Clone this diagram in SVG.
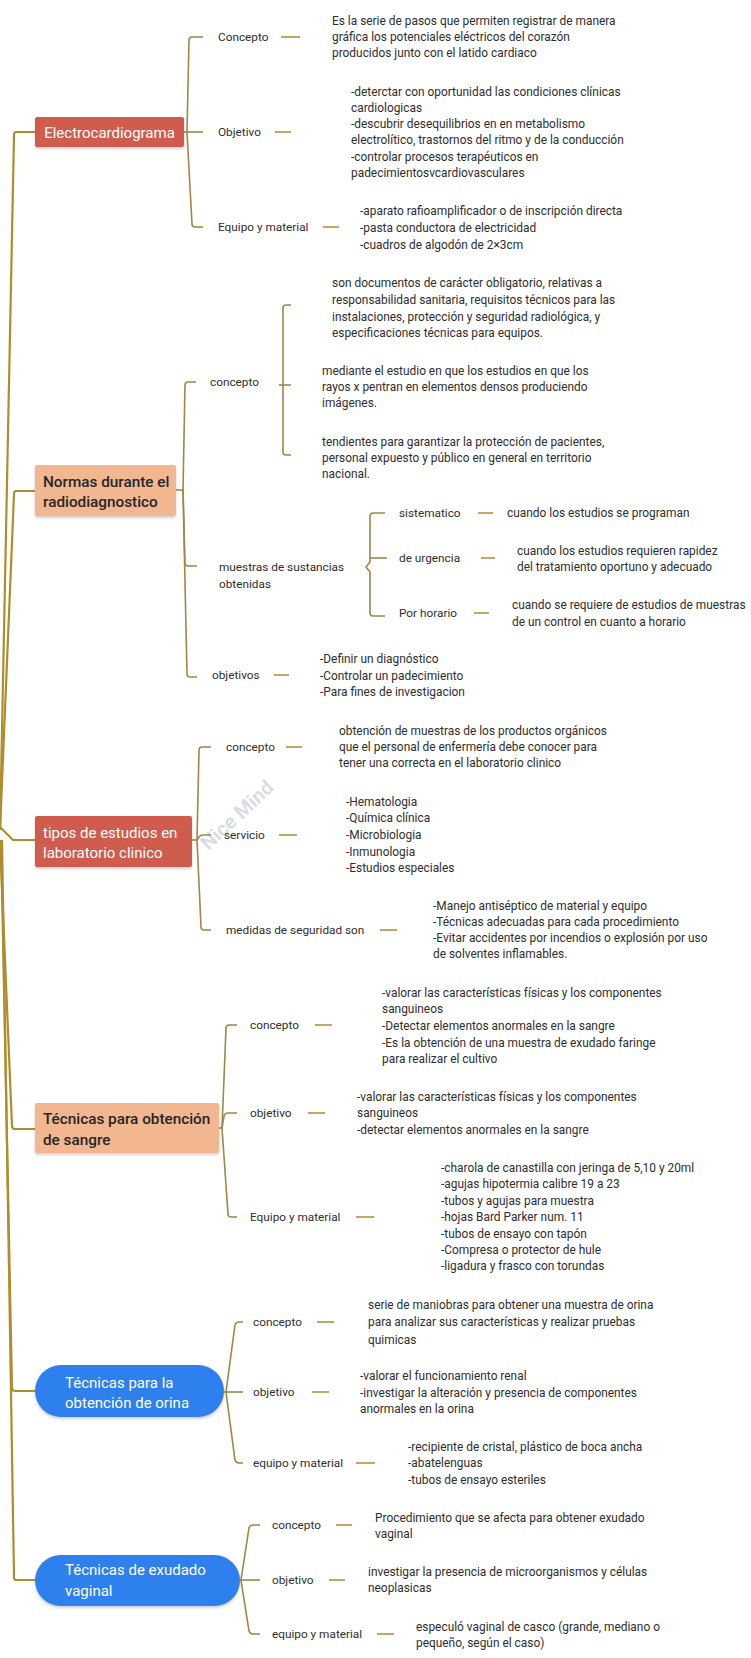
<svg xmlns="http://www.w3.org/2000/svg" width="751" height="1658" viewBox="0 0 751 1658">
<style>
.bg{fill:#ffffff}
.lbl{font-family:Roboto,"Liberation Sans",sans-serif;font-size:11.8px;fill:#2e2e2e}
.txt{font-family:Roboto,"Liberation Sans",sans-serif;font-size:11.9px;fill:#2e2e2e}
.red{fill:#cf5b4d}
.peach{fill:#f2b690}
.blue{fill:#2f80ee}
.tw{font-family:Roboto,"Liberation Sans",sans-serif;font-size:15px;fill:#ffffff}
.td{font-family:Roboto,"Liberation Sans",sans-serif;font-size:15.3px;font-weight:500;fill:#262626}
.root{stroke:#b08d2c;stroke-width:2.2;fill:none}
.br{stroke:#a08745;stroke-width:1.6;fill:none}
.dash{stroke:#c2a860;stroke-width:2}
.wm{font-family:Roboto,"Liberation Sans",sans-serif;font-size:20px;font-weight:bold;fill:#c9d1dc;opacity:0.7}
</style>
<defs>
  <filter id="sh" x="-10%" y="-20%" width="120%" height="150%">
    <feDropShadow dx="0" dy="2" stdDeviation="1.5" flood-color="#000000" flood-opacity="0.18"/>
  </filter>
</defs>
<rect class="bg" x="0" y="0" width="751" height="1658"/>

<text class="wm" x="237" y="822" text-anchor="middle" transform="rotate(-43 237 815)">Nice Mind</text>

<g id="connectors">
  <!-- root lines -->
  <path class="root" d="M35,132 H16 Q14,132 14,135 L0,830"/>
  <path class="root" d="M35,491 H16 Q14,491 14,494 L0,830"/>
  <path class="root" d="M0,827 L13,840 H35"/>
  <path class="root" d="M35,1129 H15 Q12,1129 12,1126 L0,840"/>
  <path class="root" d="M35,1391 H15 Q12,1391 12,1388 L1,840"/>
  <path class="root" d="M35,1580 H16 Q14,1580 14,1577 L2,840"/>

  <!-- Electrocardiograma branches -->
  <path class="br" d="M184,132 H203"/>
  <path class="br" d="M187,132 L189,40 Q189,37 192,37 H203"/>
  <path class="br" d="M187,132 L192,224 Q192,227 195,227 H203"/>
  <line class="dash" x1="281" y1="37" x2="300" y2="37"/>
  <line class="dash" x1="275" y1="132" x2="291" y2="132"/>
  <line class="dash" x1="323" y1="227" x2="339" y2="227"/>

  <!-- Normas branches -->
  <path class="br" d="M176,490 H184"/>
  <path class="br" d="M183,490 L185,385 Q185,382 188,382 H196"/>
  <path class="br" d="M183,490 L185,563 Q185,566 188,566 H197"/>
  <path class="br" d="M183,490 L187,674 Q187,677 190,677 H197"/>
  <path class="br" d="M291,305 H286 Q283,305 283,308 V452 Q283,455 286,455 H291"/>
  <path class="br" d="M279,385 H291"/>
  <path class="br" d="M385,513 H373 Q370,513 370,516 V562 L366,567 L370,572 V613 Q370,616 373,616 H385"/>
  <path class="br" d="M370,558 H387"/>
  <line class="dash" x1="478" y1="513" x2="493" y2="513"/>
  <line class="dash" x1="481" y1="558" x2="495" y2="558"/>
  <line class="dash" x1="474" y1="613" x2="489" y2="613"/>
  <line class="dash" x1="274" y1="675" x2="289" y2="675"/>

  <!-- tipos branches -->
  <path class="br" d="M192,840 H197 L199,837 Q200,835 203,835 H211"/>
  <path class="br" d="M197,840 L199,750 Q199,747 202,747 H211"/>
  <path class="br" d="M197,840 L201,927 Q201,930 204,930 H211"/>
  <line class="dash" x1="286" y1="747" x2="302" y2="747"/>
  <line class="dash" x1="279" y1="835" x2="297" y2="835"/>
  <line class="dash" x1="380" y1="930" x2="397" y2="930"/>

  <!-- sangre branches -->
  <path class="br" d="M219,1128 H223"/>
  <path class="br" d="M222,1128 L226,1028 Q226,1025 229,1025 H237"/>
  <path class="br" d="M222,1128 L224,1116 Q225,1113 228,1113 H237"/>
  <path class="br" d="M222,1128 L228,1214 Q228,1217 231,1217 H237"/>
  <line class="dash" x1="315" y1="1025" x2="332" y2="1025"/>
  <line class="dash" x1="308" y1="1113" x2="325" y2="1113"/>
  <line class="dash" x1="356" y1="1217" x2="374" y2="1217"/>

  <!-- orina branches -->
  <path class="br" d="M224,1392 H243"/>
  <path class="br" d="M226,1392 L235,1325 Q236,1322 239,1322 H243"/>
  <path class="br" d="M226,1392 L235,1460 Q236,1463 239,1463 H243"/>
  <line class="dash" x1="317" y1="1322" x2="334" y2="1322"/>
  <line class="dash" x1="312" y1="1392" x2="329" y2="1392"/>
  <line class="dash" x1="356" y1="1463" x2="375" y2="1463"/>

  <!-- exudado branches -->
  <path class="br" d="M240,1580 H260"/>
  <path class="br" d="M241,1580 L249,1528 Q250,1525 253,1525 H260"/>
  <path class="br" d="M241,1580 L249,1631 Q250,1634 253,1634 H260"/>
  <line class="dash" x1="336" y1="1525" x2="352" y2="1525"/>
  <line class="dash" x1="329" y1="1580" x2="345" y2="1580"/>
  <line class="dash" x1="377" y1="1634" x2="394" y2="1634"/>
</g>

<!-- Section 1 -->
<g id="n-electro">
  <rect class="red" x="35" y="117" width="149" height="30" rx="2" filter="url(#sh)"/>
  <text class="tw" x="109.5" y="137.5" text-anchor="middle">Electrocardiograma</text>
</g>
<g id="n-electro-concepto">
  <text class="lbl" x="218" y="41">Concepto</text>
</g>
<g id="n-electro-concepto-txt">
  <text class="txt"><tspan x="332" y="25">Es la serie de pasos que permiten registrar de manera</tspan><tspan x="332" y="41">gráfica los potenciales eléctricos del corazón</tspan><tspan x="332" y="57">producidos junto con el latido cardiaco</tspan></text>
</g>
<g id="n-electro-objetivo">
  <text class="lbl" x="218" y="136">Objetivo</text>
</g>
<g id="n-electro-objetivo-txt">
  <text class="txt"><tspan x="351" y="96">-deterctar con oportunidad las condiciones clínicas</tspan><tspan x="351" y="112">cardiologicas</tspan><tspan x="351" y="128">-descubrir desequilibrios en en metabolismo</tspan><tspan x="351" y="144">electrolítico, trastornos del ritmo y de la conducción</tspan><tspan x="351" y="161">-controlar procesos terapéuticos en</tspan><tspan x="351" y="177">padecimientosvcardiovasculares</tspan></text>
</g>
<g id="n-electro-equipo">
  <text class="lbl" x="218" y="231">Equipo y material</text>
</g>
<g id="n-electro-equipo-txt">
  <text class="txt"><tspan x="360" y="215">-aparato rafioamplificador o de inscripción directa</tspan><tspan x="360" y="232">-pasta conductora de electricidad</tspan><tspan x="360" y="249">-cuadros de algodón de 2×3cm</tspan></text>
</g>

<!-- Section 2 -->
<g id="n-normas">
  <rect class="peach" x="35" y="465" width="141" height="51" rx="2" filter="url(#sh)"/>
  <text class="td"><tspan x="43" y="487">Normas durante el</tspan><tspan x="43" y="507">radiodiagnostico</tspan></text>
</g>
<g id="n-normas-concepto">
  <text class="lbl" x="210" y="386">concepto</text>
</g>
<g id="n-normas-c1">
  <text class="txt"><tspan x="332" y="287">son documentos de carácter obligatorio, relativas a</tspan><tspan x="332" y="304">responsabilidad sanitaria, requisitos técnicos para las</tspan><tspan x="332" y="321">instalaciones, protección y seguridad radiológica, y</tspan><tspan x="332" y="337">especificaciones técnicas para equipos.</tspan></text>
</g>
<g id="n-normas-c2">
  <text class="txt"><tspan x="322" y="375">mediante el estudio en que los estudios en que los</tspan><tspan x="322" y="391">rayos x pentran en elementos densos produciendo</tspan><tspan x="322" y="407">imágenes.</tspan></text>
</g>
<g id="n-normas-c3">
  <text class="txt"><tspan x="322" y="446">tendientes para garantizar la protección de pacientes,</tspan><tspan x="322" y="462">personal expuesto y público en general en territorio</tspan><tspan x="322" y="478">nacional.</tspan></text>
</g>
<g id="n-normas-muestras">
  <text class="lbl"><tspan x="219" y="571">muestras de sustancias</tspan><tspan x="219" y="588">obtenidas</tspan></text>
</g>
<g id="n-sistematico">
  <text class="lbl" x="399" y="517">sistematico</text>
</g>
<g id="n-sistematico-txt">
  <text class="txt" x="507" y="517">cuando los estudios se programan</text>
</g>
<g id="n-urgencia">
  <text class="lbl" x="399" y="562">de urgencia</text>
</g>
<g id="n-urgencia-txt">
  <text class="txt"><tspan x="517" y="555">cuando los estudios requieren rapidez</tspan><tspan x="517" y="571">del tratamiento oportuno y adecuado</tspan></text>
</g>
<g id="n-horario">
  <text class="lbl" x="399" y="617">Por horario</text>
</g>
<g id="n-horario-txt">
  <text class="txt"><tspan x="512" y="609">cuando se requiere de estudios de muestras</tspan><tspan x="512" y="626">de un control en cuanto a horario</tspan></text>
</g>
<g id="n-normas-objetivos">
  <text class="lbl" x="212" y="679">objetivos</text>
</g>
<g id="n-normas-objetivos-txt">
  <text class="txt"><tspan x="320" y="663">-Definir un diagnóstico</tspan><tspan x="320" y="680">-Controlar un padecimiento</tspan><tspan x="320" y="696">-Para fines de investigacion</tspan></text>
</g>

<!-- Section 3 -->
<g id="n-tipos">
  <rect class="red" x="35" y="816" width="157" height="51" rx="2" filter="url(#sh)"/>
  <text class="tw"><tspan x="43" y="838">tipos de estudios en</tspan><tspan x="43" y="858">laboratorio clinico</tspan></text>
</g>
<g id="n-tipos-concepto">
  <text class="lbl" x="226" y="751">concepto</text>
</g>
<g id="n-tipos-concepto-txt">
  <text class="txt"><tspan x="339" y="735">obtención de muestras de los productos orgánicos</tspan><tspan x="339" y="751">que el personal de enfermería debe conocer para</tspan><tspan x="339" y="767">tener una correcta en el laboratorio clinico</tspan></text>
</g>
<g id="n-tipos-servicio">
  <text class="lbl" x="224" y="839">servicio</text>
</g>
<g id="n-tipos-servicio-txt">
  <text class="txt"><tspan x="346" y="806">-Hematologia</tspan><tspan x="346" y="822">-Química clínica</tspan><tspan x="346" y="839">-Microbiologia</tspan><tspan x="346" y="856">-Inmunologia</tspan><tspan x="346" y="872">-Estudios especiales</tspan></text>
</g>
<g id="n-tipos-medidas">
  <text class="lbl" x="226" y="934">medidas de seguridad son</text>
</g>
<g id="n-tipos-medidas-txt">
  <text class="txt"><tspan x="433" y="910">-Manejo antiséptico de material y equipo</tspan><tspan x="433" y="926">-Técnicas adecuadas para cada procedimiento</tspan><tspan x="433" y="942">-Evitar accidentes por incendios o explosión por uso</tspan><tspan x="433" y="958">de solventes inflamables.</tspan></text>
</g>

<!-- Section 4 -->
<g id="n-sangre">
  <rect class="peach" x="35" y="1103" width="184" height="50" rx="2" filter="url(#sh)"/>
  <text class="td"><tspan x="43" y="1124">Técnicas para obtención</tspan><tspan x="43" y="1145">de sangre</tspan></text>
</g>
<g id="n-sangre-concepto">
  <text class="lbl" x="250" y="1029">concepto</text>
</g>
<g id="n-sangre-concepto-txt">
  <text class="txt"><tspan x="382" y="997">-valorar las características físicas y los componentes</tspan><tspan x="382" y="1013">sanguineos</tspan><tspan x="382" y="1030">-Detectar elementos anormales en la sangre</tspan><tspan x="382" y="1047">-Es la obtención de una muestra de exudado faringe</tspan><tspan x="382" y="1063">para realizar el cultivo</tspan></text>
</g>
<g id="n-sangre-objetivo">
  <text class="lbl" x="250" y="1117">objetivo</text>
</g>
<g id="n-sangre-objetivo-txt">
  <text class="txt"><tspan x="357" y="1101">-valorar las características físicas y los componentes</tspan><tspan x="357" y="1117">sanguineos</tspan><tspan x="357" y="1134">-detectar elementos anormales en la sangre</tspan></text>
</g>
<g id="n-sangre-equipo">
  <text class="lbl" x="250" y="1221">Equipo y material</text>
</g>
<g id="n-sangre-equipo-txt">
  <text class="txt"><tspan x="441" y="1172">-charola de canastilla con jeringa de 5,10 y 20ml</tspan><tspan x="441" y="1188">-agujas hipotermia calibre 19 a 23</tspan><tspan x="441" y="1205">-tubos y agujas para muestra</tspan><tspan x="441" y="1221">-hojas Bard Parker num. 11</tspan><tspan x="441" y="1238">-tubos de ensayo con tapón</tspan><tspan x="441" y="1254">-Compresa o protector de hule</tspan><tspan x="441" y="1270">-ligadura y frasco con torundas</tspan></text>
</g>

<!-- Section 5 -->
<g id="n-orina">
  <rect class="blue" x="35" y="1365" width="189" height="52" rx="26" filter="url(#sh)"/>
  <text class="tw"><tspan x="65" y="1388">Técnicas para la</tspan><tspan x="65" y="1408">obtención de orina</tspan></text>
</g>
<g id="n-orina-concepto">
  <text class="lbl" x="253" y="1326">concepto</text>
</g>
<g id="n-orina-concepto-txt">
  <text class="txt"><tspan x="368" y="1309">serie de maniobras para obtener una muestra de orina</tspan><tspan x="368" y="1326">para analizar sus características y realizar pruebas</tspan><tspan x="368" y="1344">quimicas</tspan></text>
</g>
<g id="n-orina-objetivo">
  <text class="lbl" x="253" y="1396">objetivo</text>
</g>
<g id="n-orina-objetivo-txt">
  <text class="txt"><tspan x="360" y="1380">-valorar el funcionamiento renal</tspan><tspan x="360" y="1397">-investigar la alteración y presencia de componentes</tspan><tspan x="360" y="1413">anormales en la orina</tspan></text>
</g>
<g id="n-orina-equipo">
  <text class="lbl" x="253" y="1467">equipo y material</text>
</g>
<g id="n-orina-equipo-txt">
  <text class="txt"><tspan x="408" y="1451">-recipiente de cristal, plástico de boca ancha</tspan><tspan x="408" y="1467">-abatelenguas</tspan><tspan x="408" y="1484">-tubos de ensayo esteriles</tspan></text>
</g>

<!-- Section 6 -->
<g id="n-exudado">
  <rect class="blue" x="35" y="1555" width="205" height="51" rx="25.5" filter="url(#sh)"/>
  <text class="tw"><tspan x="65" y="1575">Técnicas de exudado</tspan><tspan x="65" y="1596">vaginal</tspan></text>
</g>
<g id="n-exudado-concepto">
  <text class="lbl" x="272" y="1529">concepto</text>
</g>
<g id="n-exudado-concepto-txt">
  <text class="txt"><tspan x="375" y="1522">Procedimiento que se afecta para obtener exudado</tspan><tspan x="375" y="1538">vaginal</tspan></text>
</g>
<g id="n-exudado-objetivo">
  <text class="lbl" x="272" y="1584">objetivo</text>
</g>
<g id="n-exudado-objetivo-txt">
  <text class="txt"><tspan x="368" y="1576">investigar la presencia de microorganismos y células</tspan><tspan x="368" y="1592">neoplasicas</tspan></text>
</g>
<g id="n-exudado-equipo">
  <text class="lbl" x="272" y="1638">equipo y material</text>
</g>
<g id="n-exudado-equipo-txt">
  <text class="txt"><tspan x="416" y="1631">especuló vaginal de casco (grande, mediano o</tspan><tspan x="416" y="1647">pequeño, según el caso)</tspan></text>
</g>
</svg>
